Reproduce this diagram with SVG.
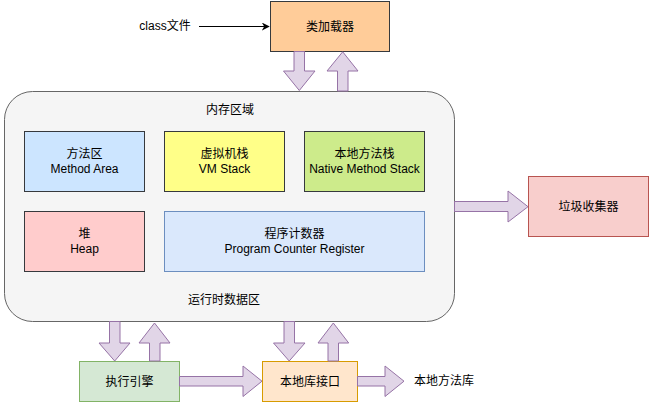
<svg xmlns="http://www.w3.org/2000/svg" width="651" height="405" viewBox="0 0 651 405">
<defs>
<style>
text{font-family:"Liberation Sans","Noto Sans CJK SC",sans-serif;font-size:12px;fill:#000;text-anchor:middle;dominant-baseline:central}
.box{stroke-width:1}
.arr{fill:#e1d5e7;stroke:#9673a6;stroke-width:1;stroke-linejoin:miter}
</style>
<marker id="ah" viewBox="0 0 10 10" refX="9" refY="5" markerWidth="8" markerHeight="8" markerUnits="userSpaceOnUse" orient="auto">
<path d="M0,0 L10,5 L0,10 L3,5 Z" fill="#000"/>
</marker>
</defs>
<rect width="651" height="405" fill="#fff"/>
<g id="runtime-area">
<rect x="4.5" y="91.5" width="450" height="230" rx="28" ry="28" fill="#f5f5f5" stroke="#666666"/>
<text x="230" y="110">内存区域</text>
<text x="224" y="300">运行时数据区</text>
</g>
<g id="class-loader">
<rect class="box" x="270.5" y="1.5" width="119" height="50" fill="#ffcc99" stroke="#36393d"/>
<text x="330" y="26.5">类加载器</text>
</g>
<g id="class-file">
<text x="165" y="26">class文件</text>
</g>
<g id="method-area">
<rect class="box" x="24.5" y="131.5" width="120" height="60" fill="#cce5ff" stroke="#36393d"/>
<text x="84.5" y="154">方法区</text>
<text x="84.5" y="168.5">Method Area</text>
</g>
<g id="vm-stack">
<rect class="box" x="164.5" y="131.5" width="120" height="60" fill="#ffff88" stroke="#36393d"/>
<text x="224.5" y="154">虚拟机栈</text>
<text x="224.5" y="168.5">VM Stack</text>
</g>
<g id="native-stack">
<rect class="box" x="304.5" y="131.5" width="120" height="60" fill="#cdeb8b" stroke="#36393d"/>
<text x="364.5" y="154">本地方法栈</text>
<text x="364.5" y="168.5">Native Method Stack</text>
</g>
<g id="heap">
<rect class="box" x="24.5" y="211.5" width="120" height="60" fill="#ffcccc" stroke="#36393d"/>
<text x="84.5" y="234">堆</text>
<text x="84.5" y="248.5">Heap</text>
</g>
<g id="pc-register">
<rect class="box" x="164.5" y="211.5" width="260" height="60" fill="#dae8fc" stroke="#6c8ebf"/>
<text x="294.5" y="234">程序计数器</text>
<text x="294.5" y="248.5">Program Counter Register</text>
</g>
<g id="gc">
<rect class="box" x="528.5" y="176.5" width="120" height="60" fill="#f8cecc" stroke="#b85450"/>
<text x="588.5" y="206.5">垃圾收集器</text>
</g>
<g id="exec-engine">
<rect class="box" x="79.5" y="361.5" width="100" height="40" fill="#d5e8d4" stroke="#82b366"/>
<text x="129.5" y="381.5">执行引擎</text>
</g>
<g id="native-interface">
<rect class="box" x="262.5" y="361.5" width="95" height="40" fill="#ffe6cc" stroke="#d79b00"/>
<text x="310" y="381.5">本地库接口</text>
</g>
<g id="native-lib">
<text x="444" y="381">本地方法库</text>
</g>
<g id="connectors">
<line x1="199" y1="26.5" x2="269" y2="26.5" stroke="#000" stroke-width="1" marker-end="url(#ah)"/>
<polygon class="arr" points="294,51.5 304.5,51.5 304.5,71 315,71 299.3,90.5 283.5,71 294,71"/>
<polygon class="arr" points="337.5,91 348,91 348,71 358,71 342.7,51.8 327,71 337.5,71"/>
<polygon class="arr" points="454.5,201.5 508,201.5 508,191 528,206.7 508,222 508,211.5 454.5,211.5"/>
<polygon class="arr" points="109.5,321.5 120,321.5 120,343 130,343 114.7,361 99,343 109.5,343"/>
<polygon class="arr" points="149.5,361 160,361 160,343 170,343 154.5,323 139,343 149.5,343"/>
<polygon class="arr" points="284,321.5 294.5,321.5 294.5,343 305,343 289.2,361 273.5,343 284,343"/>
<polygon class="arr" points="328,361 338.5,361 338.5,343 348.7,343 333.3,323 318,343 328,343"/>
<polygon class="arr" points="179.5,376.5 243,376.5 243,366 262,381.2 243,396.5 243,386 179.5,386"/>
<polygon class="arr" points="357.5,376.5 385,376.5 385,366 404,381.2 385,396.5 385,386 357.5,386"/>
</g>
</svg>
